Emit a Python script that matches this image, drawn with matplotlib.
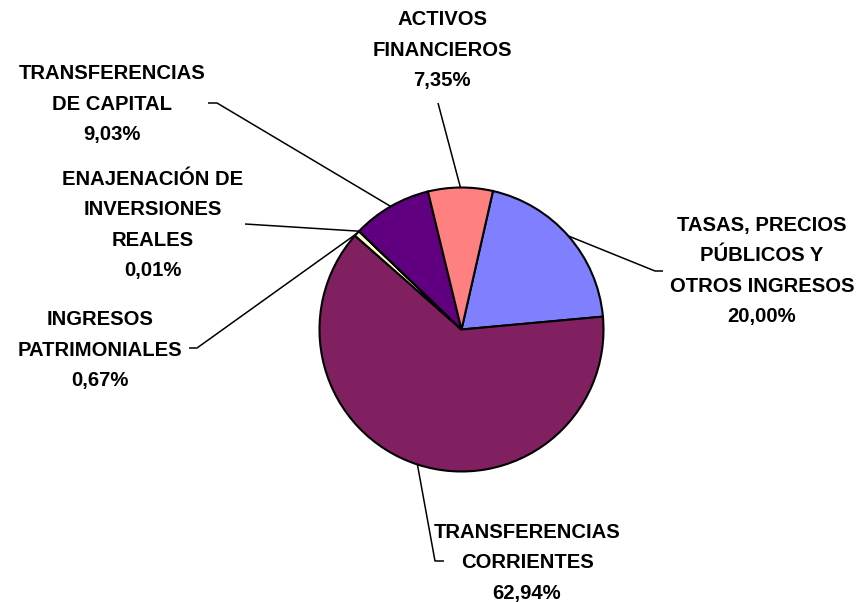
import numpy as np
import matplotlib
matplotlib.use("Agg")
import matplotlib.pyplot as plt

# ---- data ----
categories = ["TASAS, PRECIOS\nPÚBLICOS Y\nOTROS INGRESOS",
              "TRANSFERENCIAS\nCORRIENTES",
              "INGRESOS\nPATRIMONIALES",
              "ENAJENACIÓN DE\nINVERSIONES\nREALES",
              "TRANSFERENCIAS\nDE CAPITAL",
              "ACTIVOS\nFINANCIEROS"]
values = [20.00, 62.94, 0.67, 0.01, 9.03, 7.35]
pct_labels = ["20,00%", "62,94%", "0,67%", "0,01%", "9,03%", "7,35%"]
colors = ["#8080FF", "#802060", "#FFFFCC", "#CCFFFF", "#600080", "#FF8080"]

# ---- layout (pixel space, y up) ----
W, H = 859, 602
fig = plt.figure(figsize=(W / 100, H / 100), dpi=100)
ax = fig.add_axes([0, 0, 1, 1])

cx, cy, r = 461.5, H - 329.5, 142
wedges, _ = ax.pie(values, colors=colors, startangle=77.2, counterclock=False,
                   center=(cx, cy), radius=r,
                   wedgeprops=dict(edgecolor="black", linewidth=1.5),
                   frame=True)
ax.set_xlim(0, W)
ax.set_ylim(0, H)
ax.set_aspect("equal")
ax.axis("off")

# label text centers (first-line y in px from top) and leader elbow points
text_pos = [(762, 226), (527, 533), (100, 320), (153, 180), (112, 74), (442, 20)]
elbows = [((655, 271), (663, 271)),
          ((435, 561), (444, 561)),
          ((197, 348), (189, 348)),
          ((245, 224), None),
          ((217, 103), (208, 103)),
          ((438, 103), None)]

fs = 14.6
line_px = 30.0
for i, w in enumerate(wedges):
    txt = categories[i] + "\n" + pct_labels[i]
    n = txt.count("\n") + 1
    tx, ty = text_pos[i]
    ycen = ty + (n - 1) * line_px / 2
    ax.text(tx, H - ycen, txt, ha="center", va="center", fontsize=fs,
            fontweight="bold", family=["Liberation Sans", "DejaVu Sans"],
            linespacing=1.75, color="black", multialignment="center")
    mid = np.deg2rad((w.theta1 + w.theta2) / 2)
    ex, ey = cx + r * np.cos(mid), cy + r * np.sin(mid)
    (bx, by), tail = elbows[i]
    xs = [ex, bx]
    ys = [ey, H - by]
    if tail is not None:
        xs.append(tail[0])
        ys.append(H - tail[1])
    ax.plot(xs, ys, color="black", linewidth=1.1, solid_capstyle="butt")

fig.savefig("out.png", dpi=100, facecolor="white")
